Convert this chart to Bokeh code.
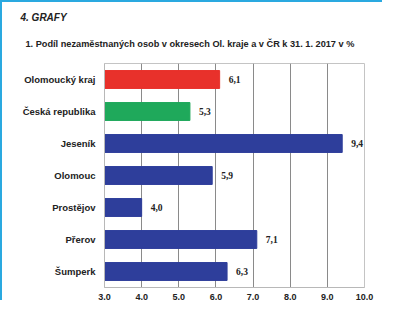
from bokeh.plotting import figure
from bokeh.models import ColumnDataSource, FactorRange, Title, LabelSet, FixedTicker
from bokeh.embed import file_html
from bokeh.resources import INLINE

categories = ["Olomoucký kraj", "Česká republika", "Jeseník", "Olomouc", "Prostějov", "Přerov", "Šumperk"]
values = [6.1, 5.3, 9.4, 5.9, 4.0, 7.1, 6.3]
bar_colors = ["#e8312b", "#1fa95b", "#2e3e9b", "#2e3e9b", "#2e3e9b", "#2e3e9b", "#2e3e9b"]
ticks = [3, 4, 5, 6, 7, 8, 9, 10]
tick_labels = ["3,0", "4,0", "5,0", "6,0", "7,0", "8,0", "9,0", "10,0"]
title_text = "4.  GRAFY"
subtitle_text = "1.  Podíl nezaměstnaných osob v okresech Ol. kraje a v ČR k 31. 1. 2017 v %"

FONT = "Liberation Sans"
W, H = 382, 300

src = ColumnDataSource(dict(
    cat=categories,
    val=values,
    color=bar_colors,
    lab=[("%.1f" % v).replace(".", ",") for v in values],
))

p = figure(width=W, height=H, output_backend="svg", toolbar_location=None,
           y_range=FactorRange(*categories[::-1]), x_range=(3, 10),
           min_border_left=102, min_border_right=20, min_border_top=61, min_border_bottom=15)
p.title = None
p.styles = {"border-left": "2px solid #2aa9e0", "border-top": "2px solid #2aa9e0"}

p.hbar(y="cat", left=3, right="val", height=0.56, color="color", source=src)

p.add_layout(LabelSet(x="val", y="cat", text="lab", source=src, x_offset=9,
                      text_baseline="middle", text_align="left",
                      text_font=FONT, text_font_style="bold", text_font_size="9.5px",
                      text_color="#222222"))

p.xaxis.ticker = FixedTicker(ticks=ticks)
p.xaxis.major_label_overrides = {t: s for t, s in zip(ticks, tick_labels)}
p.xaxis.major_label_text_font = FONT
p.xaxis.major_label_text_font_style = "bold"
p.xaxis.major_label_text_font_size = "9px"
p.xaxis.major_label_text_color = "#222222"
p.xaxis.major_label_standoff = 6
p.xaxis.major_tick_out = 0
p.xaxis.major_tick_in = 0
p.xaxis.minor_tick_line_color = None
p.xaxis.axis_line_color = "#b8b8b8"

p.yaxis.major_label_text_font = FONT
p.yaxis.major_label_text_font_style = "bold"
p.yaxis.major_label_text_font_size = "9.5px"
p.yaxis.major_label_text_color = "#222222"
p.yaxis.major_label_standoff = 9
p.yaxis.major_tick_out = 0
p.yaxis.major_tick_in = 0
p.yaxis.axis_line_color = "#b8b8b8"

p.xgrid.grid_line_color = "#8a8a8a"
p.ygrid.grid_line_color = None
p.outline_line_color = "#c4c4c4"

p.add_layout(Title(text=subtitle_text, align="left", offset=-79, standoff=30,
                   text_font=FONT, text_font_style="bold", text_font_size="9.2px",
                   text_color="#222222"), "above")
p.add_layout(Title(text=title_text, align="left", offset=-84, standoff=-2,
                   text_font=FONT, text_font_style="bold italic", text_font_size="10px",
                   text_color="#222222"), "above")

open("out.html", "w").write(file_html(p, INLINE))
